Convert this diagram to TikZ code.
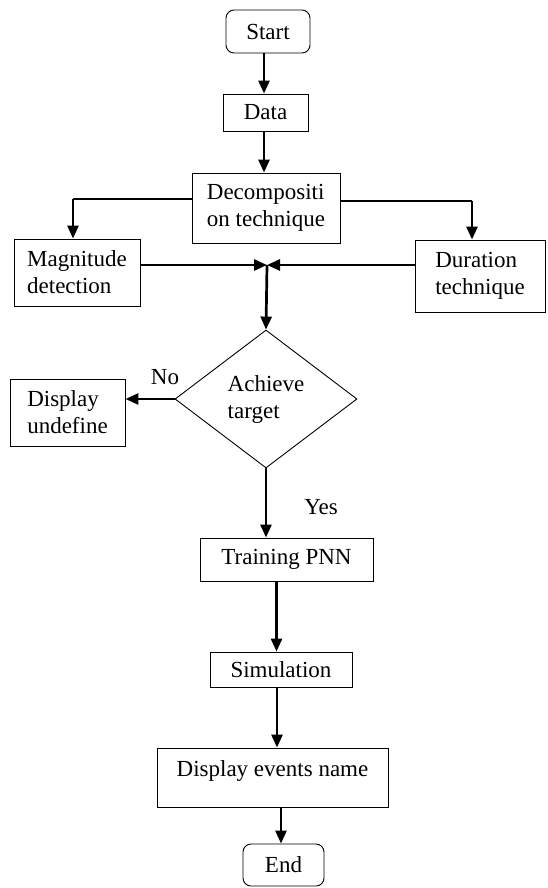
\documentclass[tikz,border=0pt]{standalone}
\usepackage{fontspec}
\setmainfont{Liberation Serif}
\usetikzlibrary{arrows.meta,shapes.geometric,calc}
\begin{document}
\begin{tikzpicture}[x=1pt,y=-1pt,
  every node/.style={font=\fontsize{23}{27}\selectfont, inner sep=0pt},
  box/.style={draw, line width=0.9pt, rectangle, align=left},
  term/.style={box, rounded corners=8pt},
  arr/.style={line width=2.7pt, -{Triangle[length=13pt,width=11pt]}},
  thinline/.style={line width=1.1pt}]
\useasboundingbox (0,0) rectangle (547,888);

\node[term, minimum width=84pt, minimum height=43pt] (start) at (268,31.5) {Start};
\node[box, minimum width=85pt, minimum height=37pt] (data) at (265.5,112.5) {Data};
\node[box, minimum width=148pt, minimum height=70pt] (decomp) at (266,208) {Decompositi\\on technique};
\node[box, minimum width=126pt, minimum height=67pt] (mag) at (77,272.5) {Magnitude\\detection};
\node[box, minimum width=130pt, minimum height=72pt] (dur) at (480,276) {Duration\\technique};
\node[draw, line width=0.9pt, shape=diamond, minimum width=182pt, minimum height=138pt, align=left] (dia) at (266,399) {Achieve\\target};
\node[box, minimum width=115pt, minimum height=67pt] (disp) at (67.5,412.5) {Display\\undefine};
\node[box, minimum width=173pt, minimum height=43pt] (train) at (286.5,559.5) {Training PNN};
\node[box, minimum width=142pt, minimum height=35pt] (sim) at (281,669.5) {Simulation};
\node[box, minimum width=231pt, minimum height=59pt, text depth=18pt] (events) at (272.5,777.5) {Display events name};
\node[term, minimum width=81pt, minimum height=42pt] (end) at (283.5,865) {End};

\node (no) at (165,377) {No};
\node (yes) at (321,507) {Yes};

\coordinate (lb) at (73,199);
\coordinate (rb) at (472,201);
\coordinate (j) at (267,265);

\draw[arr] ($(start.south)+(-4,0)$) -- ($(data.north)+(-1.5,0)$);
\draw[arr] ($(data.south)+(-1.5,0)$) -- ($(decomp.north)+(-2,0)$);
\draw[thinline] (decomp.west |- lb) -- (lb);
\draw[arr] (lb) -- (lb |- mag.north);
\draw[thinline] (decomp.east |- rb) -- (rb);
\draw[arr] (rb) -- (rb |- dur.north);
\draw[arr] (mag.east |- j) -- (j);
\draw[arr] (dur.west |- j) -- (j);
\draw[arr] (j) -- (dia.north);
\draw[arr] (dia.west) -- (dia.west -| disp.east);
\draw[arr] (dia.south) -- (dia.south |- train.north);
\draw[arr] ($(train.south)+(-10,0)$) -- ($(sim.north)+(-4.5,0)$);
\draw[arr] ($(sim.south)+(-4,0)$) -- ($(events.north)+(4.5,0)$);
\draw[arr] ($(events.south)+(8.5,0)$) -- ($(end.north)+(-2.5,0)$);
\end{tikzpicture}
\end{document}
